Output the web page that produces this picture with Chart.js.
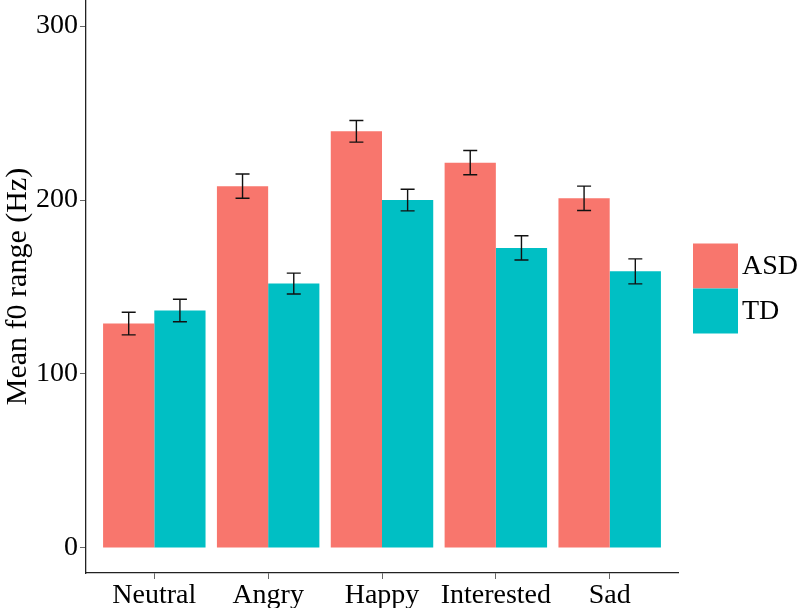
<!DOCTYPE html>
<html>
<head>
<meta charset="utf-8">
<script src="https://cdn.jsdelivr.net/npm/chart.js@4.4.1/dist/chart.umd.min.js"></script>
<style>
  html, body { margin: 0; padding: 0; background: #fff; }
  #wrap { width: 800px; height: 608px; }
</style>
</head>
<body>
<div id="wrap"><canvas id="f0Chart" width="800" height="608"></canvas></div>
<script>
const categories = ['Neutral', 'Angry', 'Happy', 'Interested', 'Sad']
const asdMeans = [129, 208, 239.5, 221.5, 201]
const asdErr = [6.5, 7, 6.2, 7, 7]
const tdMeans = [136.5, 152, 200, 172.5, 159]
const tdErr = [6.5, 6, 6.2, 7, 7.2]
const yTicks = [0, 100, 200, 300]
const groups = ['ASD', 'TD']

const serif = "'Liberation Serif', 'Times New Roman', serif"
const colors = ['#F8766D', '#00BFC4']
const errs = [asdErr, tdErr]

// error bars drawn on top of bars
const errorBars = {
    id: 'errorBars',
    afterDatasetsDraw(chart) {
        const ctx = chart.ctx
        const y = chart.scales.y
        ctx.save()
        ctx.strokeStyle = '#111'
        ctx.lineWidth = 1.4
        chart.data.datasets.forEach((ds, i) => {
            const meta = chart.getDatasetMeta(i)
            meta.data.forEach((bar, j) => {
                const v = ds.data[j].y
                const e = errs[i][j]
                const top = y.getPixelForValue(v + e)
                const bot = y.getPixelForValue(v - e)
                const hw = 7
                ctx.beginPath()
                ctx.moveTo(bar.x, top); ctx.lineTo(bar.x, bot)
                ctx.moveTo(bar.x - hw, top); ctx.lineTo(bar.x + hw, top)
                ctx.moveTo(bar.x - hw, bot); ctx.lineTo(bar.x + hw, bot)
                ctx.stroke()
            })
        })
        ctx.restore()
    }
}

// ggplot style legend, keys stacked with no gap
const sideLegend = {
    id: 'sideLegend',
    afterDraw(chart) {
        const ctx = chart.ctx
        const area = chart.chartArea
        const box = 45
        const x0 = area.right + 15
        const y0 = (area.top + area.bottom) / 2 + 2 - box * groups.length / 2
        ctx.save()
        ctx.font = '28px ' + serif
        ctx.textBaseline = 'middle'
        groups.forEach((g, i) => {
            ctx.fillStyle = colors[i]
            ctx.fillRect(x0, y0 + i * box, box, box)
            ctx.fillStyle = '#000'
            ctx.fillText(g, x0 + box + 4, y0 + i * box + box / 2 + 1)
        })
        ctx.restore()
    }
}

const ctx = document.getElementById('f0Chart').getContext('2d')
const f0Chart = new Chart(ctx, {
    type: 'bar',
    data: {
        datasets: [{
            label: groups[0],
            data: asdMeans.map((v, i) => ({ x: i, y: v })),
            backgroundColor: colors[0],
            borderWidth: 0
        }, {
            label: groups[1],
            data: tdMeans.map((v, i) => ({ x: i, y: v })),
            backgroundColor: colors[1],
            borderWidth: 0
        }]
    },
    options: {
        responsive: false,
        animation: false,
        events: [],
        layout: { padding: { left: 0, top: 0, right: 122, bottom: 0 } },
        datasets: { bar: { categoryPercentage: 0.9, barPercentage: 1 } },
        plugins: {
            legend: { display: false },
            tooltip: { enabled: false }
        },
        scales: {
            x: {
                type: 'linear',
                offset: false,
                min: -0.6,
                max: 4.6,
                afterBuildTicks: axis => { axis.ticks = categories.map((c, i) => ({ value: i })) },
                afterFit: scale => { scale.height = 35; scale.paddingLeft = 0; scale.paddingRight = 0 },
                border: { display: true, color: '#222', width: 1.3 },
                grid: { offset: false, drawOnChartArea: false, tickLength: 6, color: '#666' },
                ticks: {
                    color: '#000',
                    padding: 0,
                    maxRotation: 0,
                    autoSkip: false,
                    font: { family: serif, size: 28 },
                    callback: v => categories[v]
                }
            },
            y: {
                min: -14.4,
                max: 315,
                afterBuildTicks: axis => { axis.ticks = yTicks.map(v => ({ value: v })) },
                afterFit: scale => { scale.width = 86; scale.paddingTop = 0; scale.paddingBottom = 0 },
                border: { display: true, color: '#222', width: 1.3 },
                grid: { drawOnChartArea: false, tickLength: 6, color: '#666' },
                ticks: {
                    color: '#000',
                    padding: 2,
                    font: { family: serif, size: 28 }
                },
                title: {
                    display: true,
                    text: 'Mean f0 range (Hz)',
                    color: '#000',
                    padding: { top: 0, bottom: 0 },
                    font: { family: serif, size: 30 }
                }
            }
        }
    },
    plugins: [errorBars, sideLegend]
})
</script>
</body>
</html>
